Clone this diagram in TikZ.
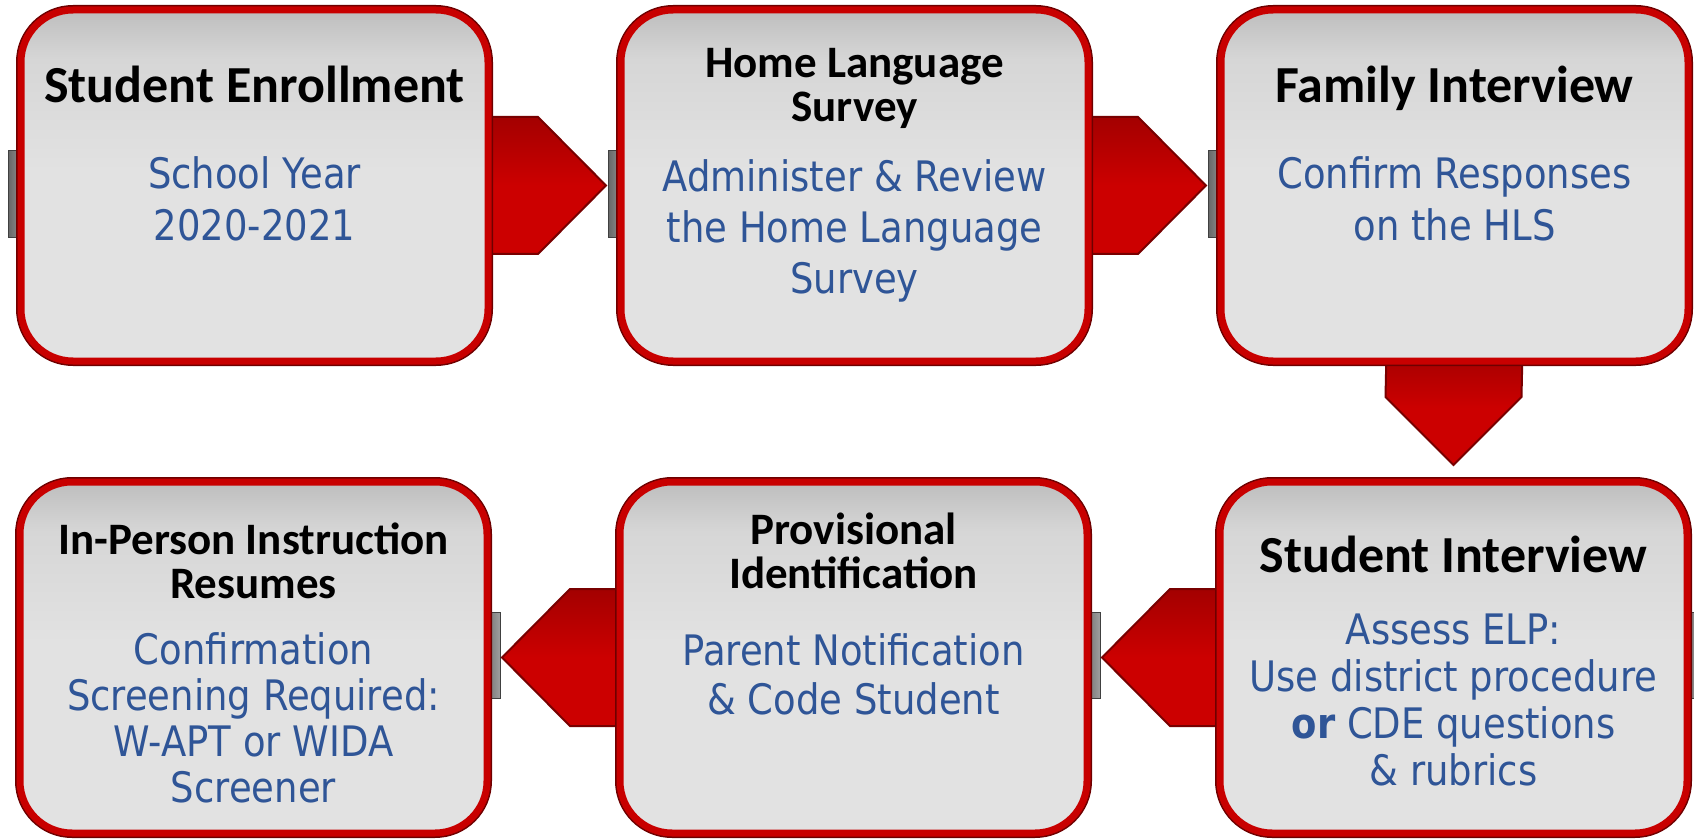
\documentclass[tikz,border=0pt]{standalone}
\usepackage{fontspec}
\usetikzlibrary{positioning}
\usetikzlibrary{backgrounds}

\setmainfont{Carlito}
\newfontfamily\bodyfont[FakeStretch=0.88]{DejaVu Sans}

\definecolor{boxred}{RGB}{200,0,0}
\definecolor{boxedge}{RGB}{110,0,0}
\definecolor{arrowred}{RGB}{204,0,0}
\definecolor{arrowedge}{RGB}{120,0,0}
\definecolor{boxgray}{RGB}{226,226,226}
\definecolor{boxmid}{RGB}{214,214,214}
\definecolor{boxtop}{RGB}{190,190,190}
\definecolor{bodyblue}{RGB}{47,85,151}

\pgfdeclareverticalshading{boxshade}{100bp}{color(0bp)=(boxgray); color(52bp)=(boxgray); color(68bp)=(boxmid); color(75bp)=(boxtop); color(100bp)=(boxtop)}

\begin{document}
\begin{tikzpicture}[
    x=0.5pt, y=-0.5pt,
    stepbox/.style={
      rectangle, rounded corners=26pt,
      minimum width=233.5pt, minimum height=175.5pt,
      inner sep=0pt, outer sep=0pt,
      shade, shading=boxshade,
      draw=boxred, line width=3.5pt,
      preaction={draw=boxedge, line width=5pt}
    },
    title/.style={
      font=\fontsize{26}{26}\selectfont\bfseries,
      align=center, inner sep=0pt, anchor=north
    },
    subtitle/.style={
      font=\fontsize{22.5}{22}\selectfont\bfseries,
      align=center, inner sep=0pt, anchor=north
    },
    body/.style={
      font=\bodyfont\fontsize{21}{#1}\selectfont, text=bodyblue,
      align=center, inner sep=0pt, anchor=north
    },
    body/.default=25,
    fatarrow/.style={top color=arrowred!80!black, bottom color=arrowred, middle color=arrowred,
      draw=arrowedge, line width=1pt, line join=miter},
    tab/.style={left color=gray!80!black, middle color=white, right color=gray!75,
      draw=gray!50!black, line width=0.5pt}
    ]
    \useasboundingbox (0,0) rectangle (1694,840);

    \node[stepbox] (enroll) at (254.5,185.5) {};
    \node[stepbox, right=66.5pt of enroll] (hls) {};
    \node[stepbox, right=66.5pt of hls] (family) {};
    \node[stepbox] (student) at (1453.5,657.5) {};
    \node[stepbox, left=66.5pt of student] (prov) {};
    \node[stepbox, left=66.5pt of prov] (inperson) {};

    \node[title] (enroll_t) at ([yshift=-27.6pt]enroll.north) {Student Enrollment};
    \node[body=26] (enroll_b) at ([yshift=-73pt]enroll.north) {School Year\\2020-2021};

    \node[subtitle] (hls_t) at ([yshift=-18.8pt]hls.north) {Home Language\\Survey};
    \node[body=25.5] (hls_b) at ([yshift=-74.6pt]hls.north) {Administer \& Review\\the Home Language\\Survey};

    \node[title] (family_t) at ([yshift=-27.6pt]family.north) {Family Interview};
    \node[body=26] (family_b) at ([yshift=-73pt]family.north) {Confirm Responses\\on the HLS};

    \node[title] (student_t) at ([yshift=-26.6pt]student.north) {Student Interview};
    \node[body=23.5] (student_b) at ([yshift=-65.5pt]student.north) {Assess ELP:\\Use district procedure\\\textbf{or} CDE questions\\\& rubrics};

    \node[subtitle] (prov_t) at ([yshift=-15.4pt]prov.north) {Provisional\\Identification};
    \node[body=24.5] (prov_b) at ([yshift=-75.6pt]prov.north) {Parent Notification\\\& Code Student};

    \node[subtitle] (inperson_t) at ([yshift=-20.3pt]inperson.north) {In-Person Instruction\\Resumes};
    \node[body=23] (inperson_b) at ([yshift=-75pt]inperson.north) {Confirmation\\Screening Required:\\W-APT or WIDA\\Screener};

    \begin{scope}[on background layer]
      % tabs on the box sides
      \foreach \n in {enroll,hls,family}{
        \shade[tab] ([xshift=-6.5pt,yshift=17.25pt]\n.west) rectangle ([xshift=2pt,yshift=-26.25pt]\n.west);
      }
      \foreach \n in {student,prov,inperson}{
        \shade[tab] ([xshift=-2pt,yshift=22.75pt]\n.east) rectangle ([xshift=6.5pt,yshift=-20.25pt]\n.east);
      }
      % arrows
      \foreach \a/\b in {enroll/hls,hls/family}{
        \shadedraw[fatarrow] ([xshift=-5pt,yshift=34.25pt]\a.east)
          -- ([xshift=-41.5pt,yshift=34.25pt]\b.west)
          -- ([xshift=-7.5pt]\b.west)
          -- ([xshift=-41.5pt,yshift=-34.25pt]\b.west)
          -- ([xshift=-5pt,yshift=-34.25pt]\a.east) -- cycle;
      }
      \shadedraw[fatarrow] ([xshift=-34pt,yshift=5pt]family.south)
        -- ([xshift=-34pt,yshift=42.5pt]student.north)
        -- ([yshift=8.5pt]student.north)
        -- ([xshift=34pt,yshift=42.5pt]student.north)
        -- ([xshift=34pt,yshift=5pt]family.south) -- cycle;
      \foreach \a/\b in {student/prov,prov/inperson}{
        \shadedraw[fatarrow] ([xshift=5pt,yshift=34.25pt]\a.west)
          -- ([xshift=41.5pt,yshift=34.25pt]\b.east)
          -- ([xshift=7.5pt]\b.east)
          -- ([xshift=41.5pt,yshift=-34.25pt]\b.east)
          -- ([xshift=5pt,yshift=-34.25pt]\a.west) -- cycle;
      }
    \end{scope}
  \end{tikzpicture}
\end{document}
